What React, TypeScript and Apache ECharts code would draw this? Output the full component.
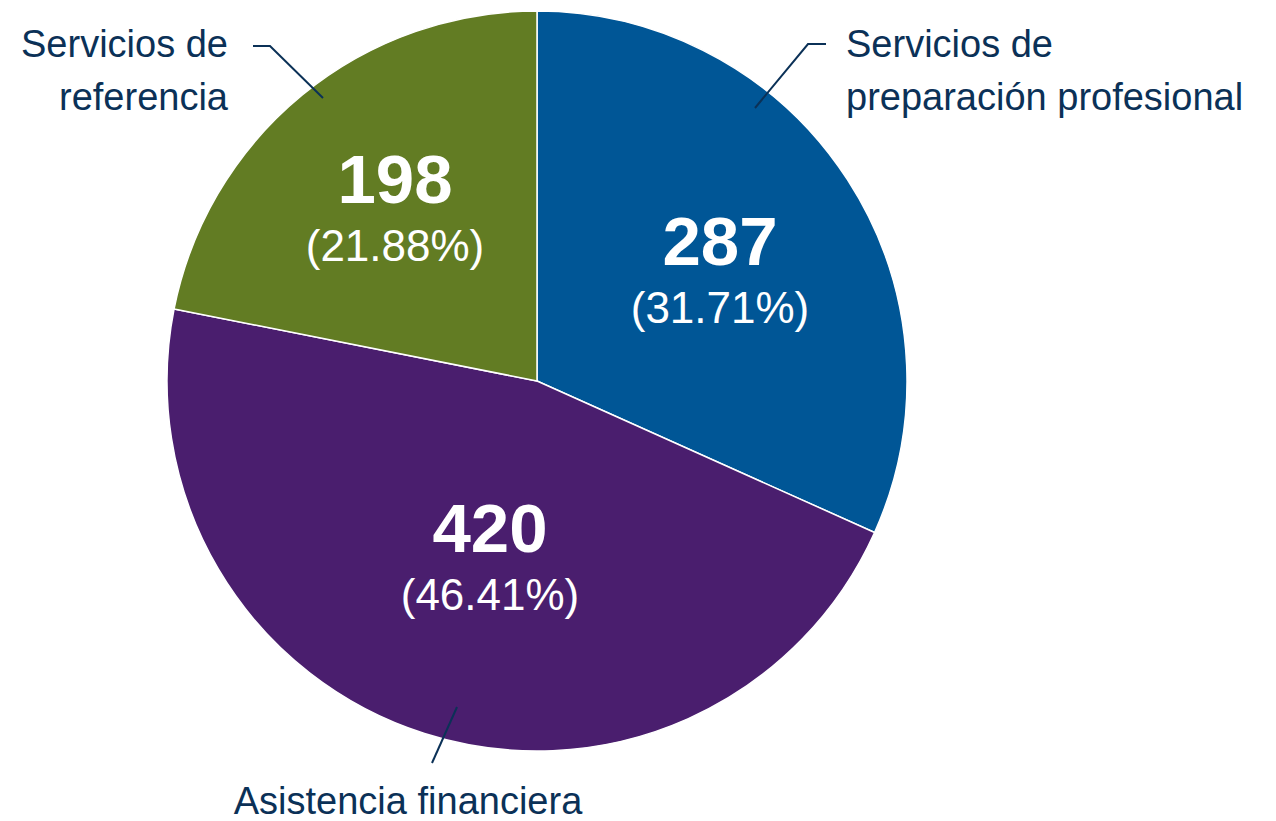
import React, { useEffect, useRef } from "react";
import * as echarts from "echarts";

const categories = [
  "Servicios de\npreparación profesional",
  "Asistencia financiera",
  "Servicios de\nreferencia",
];
const values = [287, 420, 198];
const colors = ["#005696", "#4a1e6e", "#627c23"];

const FONT = "'Liberation Sans', Arial, sans-serif";
const NAVY = "#0b3157";

// label placements (annotation layout, not data)
const innerLabelPos = [
  [720, 274],
  [490, 561],
  [395, 212],
];
const outerLabelPos = [
  { x: 846, y: 70, align: "left", line: [[755, 108], [808, 44], [826, 44]] },
  { x: 408, y: 801, align: "center", line: [[457, 707], [432, 763], [432, 763]] },
  { x: 228, y: 70, align: "right", line: [[323, 98], [270, 46], [253, 46]] },
];

export default function App() {
  const ref = useRef<HTMLDivElement>(null);
  useEffect(() => {
    if (!ref.current) return;
    const chart = echarts.init(ref.current, undefined, { renderer: "svg" });
    const data = categories.map((name, i) => ({
      name,
      value: values[i],
      itemStyle: { color: colors[i] },
    }));
    chart.setOption({
      animation: false,
      series: [
        {
          type: "pie",
          z: 2,
          center: [537, 381],
          radius: [0, 370],
          startAngle: 90,
          clockwise: true,
          data,
          itemStyle: { borderColor: "#ffffff", borderWidth: 1.5 },
          emphasis: { disabled: true },
          label: {
            show: true,
            position: "inside",
            color: "#ffffff",
            fontFamily: FONT,
            formatter: (p: any) => `{v|${p.value}}\n{p|(${p.percent.toFixed(2)}%)}`,
            rich: {
              v: { fontSize: 69, fontWeight: "bold", color: "#ffffff", fontFamily: FONT, lineHeight: 66, align: "center" },
              p: { fontSize: 44, color: "#ffffff", fontFamily: FONT, lineHeight: 66, align: "center" },
            },
          },
          labelLine: { show: false },
          labelLayout: (params: any) => {
            const pos = innerLabelPos[params.dataIndex];
            return { x: pos[0], y: pos[1], align: "center", verticalAlign: "middle" };
          },
        },
        {
          type: "pie",
          z: 10,
          center: [537, 381],
          radius: [0, 370],
          startAngle: 90,
          clockwise: true,
          silent: true,
          data: categories.map((name, i) => ({
            name,
            value: values[i],
            label: { lineHeight: name.indexOf("\n") >= 0 ? 53 : 38 },
          })),
          itemStyle: { color: "rgba(0,0,0,0)" },
          emphasis: { disabled: true },
          label: {
            show: true,
            position: "outside",
            alignTo: "none",
            overflow: "none",
            width: 500,
            formatter: "{b}",
            color: NAVY,
            fontFamily: FONT,
            fontSize: 38,
            lineHeight: 53,
          },
          labelLine: {
            show: true,
            length: 20,
            length2: 20,
            lineStyle: { color: NAVY, width: 2 },
          },
          labelLayout: (params: any) => {
            const o = outerLabelPos[params.dataIndex];
            return {
              x: o.x,
              y: o.y,
              align: o.align,
              verticalAlign: "middle",
              labelLinePoints: o.line,
            };
          },
        },
      ],
    });
    return () => chart.dispose();
  }, []);
  return (
    <div
      ref={ref}
      style={{ position: "fixed", left: 0, top: 0, width: 1276, height: 821, background: "#ffffff" }}
    />
  );
}
